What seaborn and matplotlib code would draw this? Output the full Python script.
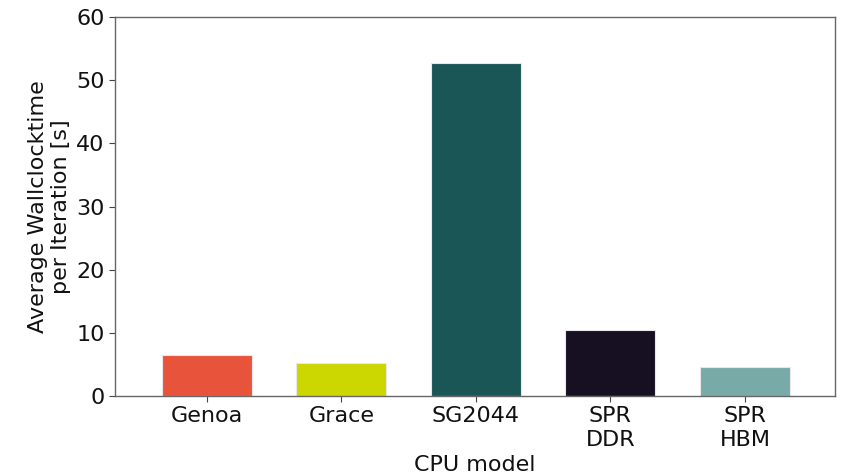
import matplotlib
matplotlib.use("Agg")
import matplotlib.pyplot as plt
import seaborn as sns
import pandas as pd

# values
cpus = ["Genoa", "Grace", "SG2044", "SPR\nDDR", "SPR\nHBM"]
wallclock = [6.5, 5.3, 52.7, 10.4, 4.6]
bar_colors = ["#E8533C", "#CCD600", "#1B5657", "#170F22", "#78AAA8"]

df = pd.DataFrame({"cpu": cpus, "time": wallclock})

sns.set_style("ticks")
plt.rcParams["font.family"] = ["DejaVu Sans"]

fig = plt.figure(figsize=(8.41, 4.76), dpi=100)
ax = fig.add_axes([0.137, 0.168, 0.856, 0.796])

sns.barplot(data=df, x="cpu", y="time", hue="cpu", palette=bar_colors,
            legend=False, width=0.67, edgecolor="#e8e8e8", linewidth=0.8,
            saturation=1, ax=ax)

ax.set_ylim(0, 60)
ax.set_xlim(-0.68, 4.67)
ax.set_yticks([0, 10, 20, 30, 40, 50, 60])
ax.set_xlabel("CPU model", fontsize=16, color="#111111", labelpad=4)
ax.set_ylabel("Average Wallclocktime\nper Iteration [s]", fontsize=16,
              color="#111111")
ax.tick_params(labelsize=16, labelcolor="#111111", color="#444444", length=4)
for s in ax.spines.values():
    s.set_visible(True)
    s.set_color("#666666")
    s.set_linewidth(1.0)

fig.savefig("out.png", dpi=100)
